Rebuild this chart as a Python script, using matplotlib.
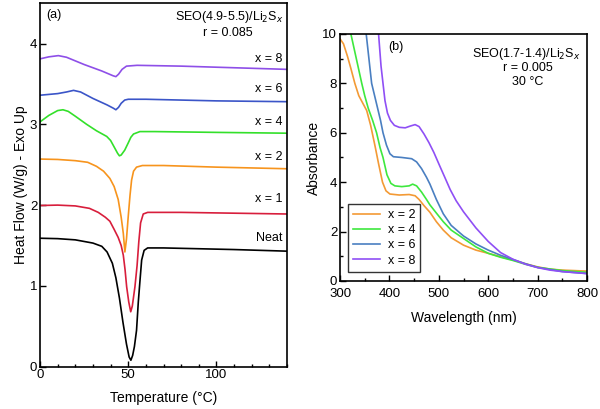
import matplotlib
matplotlib.use("Agg")
import matplotlib.pyplot as plt
from matplotlib.ticker import MultipleLocator

plt.rcParams["font.family"] = ["Liberation Sans", "DejaVu Sans"]
plt.rcParams["font.size"] = 9.5

# ---- panel (a): DSC traces, temperature (C) vs heat flow (W/g) ----
neat_t = [0, 10, 20, 30, 35, 38, 41, 43, 45, 47, 49, 50.5, 51.5, 52.5, 53.5, 54.7, 55.7, 56.6, 57.6, 59, 61, 70, 90, 110, 140]
neat_v = [1.59, 1.585, 1.57, 1.53, 1.49, 1.42, 1.28, 1.10, 0.85, 0.55, 0.28, 0.12, 0.08, 0.14, 0.25, 0.45, 0.80, 1.05, 1.32, 1.44, 1.47, 1.47, 1.46, 1.45, 1.43]

x1_t = [0, 10, 20, 28, 33, 37, 39.6, 42, 44.3, 46, 47.2, 48.2, 49.1, 50.3, 51.4, 52.3, 53.8, 55, 56, 57, 58.5, 61, 80, 110, 140]
x1_v = [1.995, 2.0, 1.99, 1.96, 1.91, 1.85, 1.80, 1.70, 1.60, 1.50, 1.38, 1.2, 0.99, 0.80, 0.68, 0.75, 0.99, 1.25, 1.55, 1.78, 1.89, 1.91, 1.91, 1.90, 1.89]

x2_t = [0, 10, 20, 27, 32, 36, 39.6, 42, 44.3, 46, 47.2, 48.1, 49, 50, 51, 51.9, 53, 54.7, 58, 70, 100, 140]
x2_v = [2.57, 2.565, 2.55, 2.53, 2.48, 2.42, 2.33, 2.23, 2.07, 1.85, 1.65, 1.42, 1.58, 1.86, 2.12, 2.31, 2.42, 2.47, 2.49, 2.49, 2.47, 2.45]

x4_t = [0, 5, 10, 13, 16, 20, 26.4, 32, 37.8, 40, 42, 44, 45, 46, 48, 50, 51.5, 53, 56.6, 65, 100, 140]
x4_v = [3.03, 3.11, 3.17, 3.18, 3.16, 3.10, 3.0, 2.92, 2.85, 2.80, 2.72, 2.64, 2.61, 2.62, 2.68, 2.77, 2.84, 2.88, 2.91, 2.91, 2.90, 2.89]

x6_t = [0, 10, 15, 19, 23, 30, 38, 41.5, 43, 44.5, 46, 48, 50, 60, 100, 140]
x6_v = [3.36, 3.38, 3.40, 3.42, 3.40, 3.32, 3.24, 3.20, 3.18, 3.21, 3.26, 3.30, 3.31, 3.31, 3.29, 3.28]

x8_t = [0, 5, 10.4, 15, 25, 35, 41.5, 43, 44.5, 46.5, 49, 55, 80, 110, 140]
x8_v = [3.81, 3.835, 3.85, 3.83, 3.74, 3.66, 3.60, 3.59, 3.62, 3.68, 3.72, 3.73, 3.72, 3.70, 3.68]

dsc_labels = ["x = 8", "x = 6", "x = 4", "x = 2", "x = 1", "Neat"]
dsc_label_y = [3.81, 3.44, 3.03, 2.59, 2.07, 1.59]

# ---- panel (b): UV-vis absorbance ----
o_wl = [300, 307, 315, 322, 330, 338, 346, 354, 362, 371, 378, 386, 393, 401, 420, 440, 452, 460, 470, 482, 495, 509, 525, 550, 575, 600, 625, 650, 675, 700, 725, 750, 775, 800]
o_ab = [9.8, 9.6, 9.1, 8.6, 8.0, 7.5, 7.2, 6.9, 6.3, 5.45, 4.75, 4.0, 3.65, 3.52, 3.48, 3.5, 3.45, 3.3, 3.05, 2.78, 2.4, 2.06, 1.75, 1.45, 1.25, 1.12, 0.98, 0.85, 0.7, 0.57, 0.48, 0.44, 0.42, 0.4]

g_wl = [310, 322, 333, 344, 350, 357, 366, 374, 381, 387, 395, 403, 411, 425, 440, 447, 455, 465, 475, 482, 495, 509, 525, 550, 575, 600, 625, 650, 675, 700, 750, 800]
g_ab = [10.6, 10.0, 9.0, 8.0, 7.5, 7.0, 6.5, 6.0, 5.4, 5.0, 4.3, 3.95, 3.85, 3.82, 3.85, 3.92, 3.85, 3.6, 3.3, 3.08, 2.75, 2.4, 2.06, 1.72, 1.38, 1.12, 0.96, 0.83, 0.68, 0.55, 0.42, 0.35]

b_wl = [345, 353, 364, 370, 376, 382, 387, 394, 401, 408, 425, 445, 455, 465, 475, 482, 495, 509, 525, 550, 575, 600, 625, 650, 675, 700, 750, 800]
b_ab = [10.6, 10.0, 8.0, 7.5, 7.0, 6.5, 6.0, 5.5, 5.15, 5.03, 5.0, 4.95, 4.82, 4.55, 4.2, 3.92, 3.3, 2.72, 2.25, 1.82, 1.5, 1.25, 1.04, 0.87, 0.7, 0.55, 0.38, 0.3]

p_wl = [375, 378, 383, 387, 391, 396, 402, 410, 420, 432, 442, 452, 460, 470, 480, 490, 502, 512, 523, 535, 550, 575, 600, 625, 650, 675, 700, 725, 750, 800]
p_ab = [10.6, 10.0, 8.7, 8.0, 7.3, 6.8, 6.5, 6.3, 6.22, 6.2, 6.27, 6.33, 6.25, 5.95, 5.6, 5.2, 4.65, 4.2, 3.7, 3.25, 2.8, 2.15, 1.6, 1.15, 0.88, 0.68, 0.54, 0.44, 0.38, 0.3]

uv_labels = ["x = 2", "x = 4", "x = 6", "x = 8"]

fig = plt.figure(figsize=(6.0, 4.09), dpi=100)

# left panel
ax1 = fig.add_axes([0.0667, 0.1034, 0.4117, 0.889])
ax1.plot(neat_t, neat_v, color="black", lw=1.2)
ax1.plot(x1_t, x1_v, color="#d81e3c", lw=1.2)
ax1.plot(x2_t, x2_v, color="#f7941d", lw=1.2)
ax1.plot(x4_t, x4_v, color="#33e02a", lw=1.2)
ax1.plot(x6_t, x6_v, color="#3b55c8", lw=1.2)
ax1.plot(x8_t, x8_v, color="#8e4fe8", lw=1.2)
ax1.set_xlim(0, 140)
ax1.set_ylim(0, 4.5)
ax1.xaxis.set_major_locator(MultipleLocator(50))
ax1.xaxis.set_minor_locator(MultipleLocator(10))
ax1.yaxis.set_major_locator(MultipleLocator(1))
ax1.set_xlabel("Temperature (°C)", labelpad=7)
ax1.set_ylabel("Heat Flow (W/g) - Exo Up", labelpad=1)
for lab, yy in zip(dsc_labels, dsc_label_y):
    ax1.text(137.5, yy, lab, ha="right", va="center", fontsize=9)
ax1.text(0.025, 0.985, "(a)", transform=ax1.transAxes, ha="left", va="top", fontsize=9)
ax1.text(0.985, 0.985, "SEO(4.9-5.5)/Li$_2$S$_x$", transform=ax1.transAxes,
         ha="right", va="top", fontsize=9)
ax1.text(0.76, 0.935, "r = 0.085", transform=ax1.transAxes, ha="center", va="top", fontsize=9)

# right panel
ax2 = fig.add_axes([0.5667, 0.313, 0.4117, 0.604])
ax2.plot(o_wl, o_ab, color="#f39a35", lw=1.2, label=uv_labels[0])
ax2.plot(g_wl, g_ab, color="#3ee83e", lw=1.2, label=uv_labels[1])
ax2.plot(b_wl, b_ab, color="#4a7fc1", lw=1.2, label=uv_labels[2])
ax2.plot(p_wl, p_ab, color="#8f4ff5", lw=1.2, label=uv_labels[3])
ax2.set_xlim(300, 800)
ax2.set_ylim(0, 10)
ax2.xaxis.set_major_locator(MultipleLocator(100))
ax2.xaxis.set_minor_locator(MultipleLocator(50))
ax2.yaxis.set_major_locator(MultipleLocator(2))
ax2.yaxis.set_minor_locator(MultipleLocator(1))
ax2.set_xlabel("Wavelength (nm)", labelpad=8)
ax2.set_ylabel("Absorbance", labelpad=1)
ax2.text(0.195, 0.97, "(b)", transform=ax2.transAxes, ha="left", va="top", fontsize=9)
ax2.text(0.975, 0.95, "SEO(1.7-1.4)/Li$_2$S$_x$", transform=ax2.transAxes,
         ha="right", va="top", fontsize=9)
ax2.text(0.76, 0.885, "r = 0.005", transform=ax2.transAxes, ha="center", va="top", fontsize=9)
ax2.text(0.76, 0.83, "30 °C", transform=ax2.transAxes, ha="center", va="top", fontsize=9)
leg = ax2.legend(loc="lower left", bbox_to_anchor=(0.031, 0.038), fontsize=9, frameon=True,
                 fancybox=False, edgecolor="black", handlelength=2.2, handletextpad=0.6,
                 labelspacing=0.25, borderpad=0.4, borderaxespad=0)
leg.get_frame().set_linewidth(1.0)

for ax in (ax1, ax2):
    for sp in ax.spines.values():
        sp.set_linewidth(1.2)
    ax.tick_params(which="both", direction="in", top=False, right=False, width=1.0)
    ax.tick_params(which="major", length=4, labelsize=9.5, pad=2)
    ax.tick_params(which="minor", length=2.5)
    ax.xaxis.label.set_size(10)
    ax.yaxis.label.set_size(10)
ax2.tick_params(axis="x", which="major", pad=5)

fig.savefig("out.png", dpi=100)
